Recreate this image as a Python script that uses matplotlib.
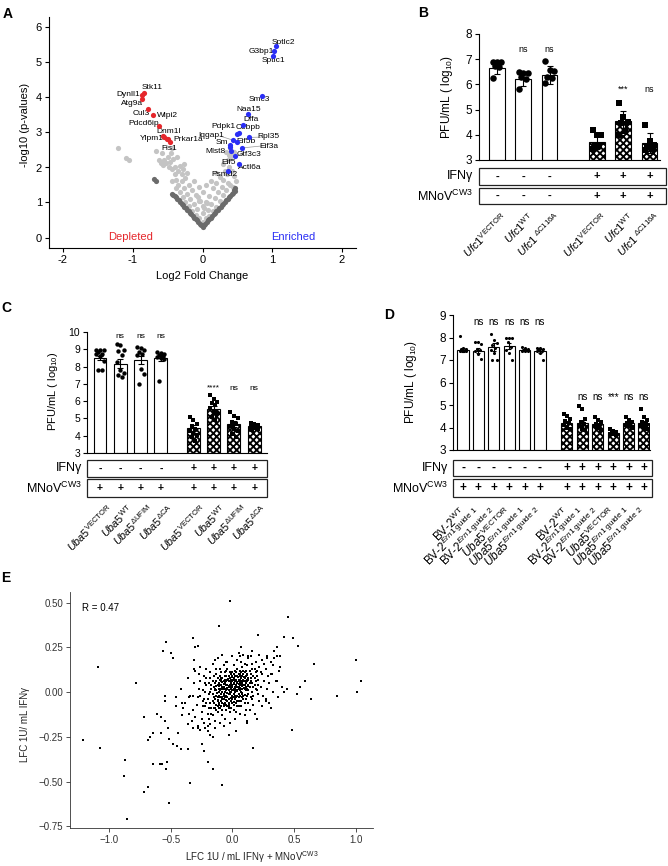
import numpy as np
import matplotlib
matplotlib.use('Agg')
import matplotlib.pyplot as plt
from matplotlib.patches import Rectangle

plt.rcParams['font.family'] = ['Liberation Sans', 'DejaVu Sans']
plt.rcParams['mathtext.fontset'] = 'custom'
plt.rcParams['mathtext.rm'] = 'Liberation Sans'
plt.rcParams['mathtext.it'] = 'Liberation Sans:italic'
plt.rcParams['mathtext.bf'] = 'Liberation Sans:bold'
plt.rcParams['hatch.linewidth'] = 1.35
plt.rcParams['axes.linewidth'] = 0.8

W, H = 668, 866

# ---------------- panel A: volcano ----------------
light_x = [0.0, -0.05, 0.05, -0.1, 0.1, 0.0, -0.08, 0.08, -0.15, 0.15, -0.2, 0.2, 0.0, -0.12, 0.12,
           -0.25, 0.25, -0.05, 0.05, -0.18, 0.18, -0.28, 0.3, -0.1, 0.1, -0.22, 0.22, 0.0, -0.32, 0.34,
           -0.15, 0.15, -0.27, 0.28, -0.05, 0.05, -0.2, 0.2, -0.35, 0.37, -0.3, 0.3, -0.12, 0.12, -0.25,
           0.25, -0.38, 0.35, -0.3, 0.32, -0.22, 0.2, -0.35, 0.38, -0.28, 0.3, -0.32, 0.36, -0.4, 0.4,
           0.42, -0.26, 0.33, -1.21, -1.09, -1.06, -0.66, -0.6, -0.57, -0.52, -0.48, -0.44, -0.58,
           -0.45, -0.5, -0.47, -0.42, -0.55, -0.62, -0.4, -0.43, -0.38, -0.36, -0.44, 0.4, 0.45, 0.38,
           0.42, 0.45, 0.48, 0.4, 0.44, -0.03, 0.02, -0.07, 0.07]
light_y = [0.45, 0.55, 0.55, 0.65, 0.62, 0.7, 0.8, 0.78, 0.75, 0.75, 0.9, 0.88, 0.9, 0.95, 0.95,
           1.0, 1.05, 1.05, 1.02, 1.1, 1.12, 1.15, 1.2, 1.2, 1.18, 1.25, 1.3, 1.3, 1.3, 1.35,
           1.35, 1.4, 1.4, 1.45, 1.45, 1.5, 1.5, 1.55, 1.5, 1.55, 1.6, 1.65, 1.6, 1.62, 1.7,
           1.72, 1.65, 1.8, 1.8, 1.9, 1.85, 1.85, 1.9, 2.0, 1.95, 2.1, 2.05, 2.2, 2.0, 2.3,
           2.4, 2.1, 2.45, 2.56, 2.28, 2.22, 2.48, 2.13, 2.08, 2.12, 2.0, 1.95, 2.4,
           2.42, 2.3, 2.15, 2.25, 2.2, 2.2, 1.8, 1.6, 1.4, 2.3, 2.55, 2.55, 2.45, 2.35,
           1.9, 1.75, 1.6, 1.5, 1.45, 1.04, 0.85, 1.15, 0.98]

dark_x = [0.0, -0.02, -0.04, -0.06, -0.08, -0.1, -0.12, -0.14, -0.16, -0.18, -0.2, -0.22, -0.24,
          -0.26, -0.28, -0.3, -0.32, -0.34, -0.36, -0.38, -0.4, 0.02, 0.04, 0.06, 0.08, 0.1, 0.12,
          0.14, 0.16, 0.18, 0.2, 0.22, 0.24, 0.26, 0.28, 0.3, 0.32, 0.34, 0.36, 0.38, 0.4, 0.42,
          0.44, 0.46, -0.7, -0.67, -0.44, -0.42, 0.45, 0.47]
dark_y = [0.31, 0.35, 0.4, 0.44, 0.49, 0.53, 0.57, 0.62, 0.66, 0.71, 0.75, 0.79, 0.84,
          0.88, 0.93, 0.97, 1.01, 1.06, 1.1, 1.15, 1.19, 0.35, 0.4, 0.44, 0.49, 0.53, 0.57,
          0.62, 0.66, 0.71, 0.75, 0.79, 0.84, 0.88, 0.93, 0.97, 1.01, 1.06, 1.1, 1.15, 1.19, 1.23,
          1.28, 1.32, 1.68, 1.6, 1.23, 1.2, 1.37, 1.4]

dep_x = [-0.84, -0.86, -0.87, -0.78, -0.71, -0.63, -0.57, -0.55, -0.51, -0.49, -0.47]
dep_y = [4.14, 4.08, 3.95, 3.67, 3.51, 3.19, 2.91, 2.86, 2.82, 2.80, 2.72]
enr_x = [1.05, 1.02, 1.01, 0.85, 0.65, 0.58, 0.52, 0.49, 0.66, 0.44, 0.50, 0.40, 0.57, 0.41,
         0.46, 0.53, 0.36, 0.39]
enr_y = [5.48, 5.34, 5.18, 4.03, 3.54, 3.22, 2.99, 2.97, 2.86, 2.78, 2.72, 2.63, 2.56, 2.46,
         2.32, 2.11, 1.91, 2.58]

gene_names = ['Stk11', 'Dynll1', 'Atg9a', 'Cul3', 'Wipi2', 'Pdcd6ip', 'Dnm1l', 'Ylpm1', 'Prkar1a',
              'Fis1', 'Sptlc2', 'G3bp1', 'Sptlc1', 'Smc3', 'Naa15', 'Dffa', 'Cebpb', 'Pdpk1',
              'Iqgap1', 'Rpl35', 'Sm', 'Eif5b', 'Eif3a', 'Mlst8', 'Gtf3c3', 'Eif5', 'Actl6a', 'Psmd2']
gene_x = [-0.72, -1.07, -1.01, -0.88, -0.50, -0.84, -0.48, -0.72, -0.20, -0.48, 1.16, 0.84, 1.01,
          0.81, 0.66, 0.69, 0.66, 0.30, 0.13, 0.95, 0.28, 0.62, 0.95, 0.19, 0.66, 0.38, 0.68, 0.32]
gene_y = [4.29, 4.08, 3.82, 3.55, 3.49, 3.27, 3.03, 2.82, 2.80, 2.53, 5.58, 5.31, 5.05, 3.93,
          3.67, 3.38, 3.13, 3.18, 2.92, 2.89, 2.70, 2.75, 2.61, 2.46, 2.37, 2.13, 1.99, 1.80]

# ---------------- panel B ----------------
b_names = [r'$\mathit{Ufc1}^{\mathrm{VECTOR}}$', r'$\mathit{Ufc1}^{\mathrm{WT}}$',
           r'$\mathit{Ufc1}^{\ \Delta\mathrm{C116A}}$', r'$\mathit{Ufc1}^{\mathrm{VECTOR}}$',
           r'$\mathit{Ufc1}^{\mathrm{WT}}$', r'$\mathit{Ufc1}^{\ \Delta\mathrm{C116A}}$']
b_means = [6.65, 6.22, 6.38, 3.73, 4.53, 3.68]
b_err = [0.24, 0.28, 0.37, 0.3, 0.43, 0.41]
b_points = [[6.89, 6.88, 6.87, 6.72, 6.70, 6.27],
            [6.49, 6.47, 6.45, 6.30, 6.22, 5.80],
            [6.91, 6.58, 6.55, 6.30, 6.27, 6.06],
            [4.18, 4.00, 3.98, 3.60, 3.55, 3.45],
            [5.28, 4.70, 4.52, 4.48, 4.15, 4.00],
            [4.40, 3.75, 3.60, 3.50, 3.42, 3.40]]
b_sig = [None, 'ns', 'ns', None, '***', 'ns']
b_sig_y = [None, 7.38, 7.38, None, 5.8, 5.8]
b_ifn = ['-', '-', '-', '+', '+', '+']
b_mnov = ['-', '-', '-', '+', '+', '+']

# ---------------- panel C ----------------
c_names = [r'$\mathit{Uba5}^{\mathrm{VECTOR}}$', r'$\mathit{Uba5}^{\mathrm{WT}}$',
           r'$\mathit{Uba5}^{\Delta\mathrm{UFIM}}$', r'$\mathit{Uba5}^{\Delta\mathrm{CA}}$'] * 2
c_means = [8.52, 8.17, 8.38, 8.50, 4.45, 5.57, 4.68, 4.55]
c_err = [0.12, 0.27, 0.25, 0.15, 0.15, 0.14, 0.17, 0.06]
c_points = [[8.98, 8.95, 8.93, 8.85, 8.75, 8.70, 8.60, 8.32, 7.80, 7.78],
            [9.33, 9.22, 8.98, 8.90, 8.65, 8.27, 7.80, 7.65, 7.50, 7.40],
            [9.13, 9.05, 8.95, 8.85, 8.75, 8.65, 7.85, 7.55, 7.00],
            [8.85, 8.78, 8.70, 8.65, 8.60, 8.55, 8.50, 8.45, 7.17],
            [5.09, 4.90, 4.70, 4.55, 4.40, 4.25, 4.15, 4.05, 3.90, 3.70],
            [6.34, 6.15, 5.95, 5.90, 5.75, 5.60, 5.45, 5.30, 5.10, 4.90],
            [5.38, 5.15, 5.00, 4.80, 4.65, 4.55, 4.40, 4.25, 4.10, 3.95],
            [4.75, 4.68, 4.62, 4.58, 4.55, 4.50, 4.45, 4.40, 4.35]]
c_sig = [None, 'ns', 'ns', 'ns', None, '****', 'ns', 'ns']
c_sig_y = [None, 9.75, 9.75, 9.75, None, 6.75, 6.75, 6.75]
c_ifn = ['-'] * 4 + ['+'] * 4
c_mnov = ['+'] * 8

# ---------------- panel D ----------------
d_names = [r'BV-2$^{\mathrm{WT}}$', r'BV-2$^{\mathit{Ern1}\ \mathrm{guide\ 1}}$',
           r'BV-2$^{\mathit{Ern1}\ \mathrm{guide\ 2}}$', r'$\mathit{Uba5}^{\mathrm{VECTOR}}$',
           r'$\mathit{Uba5}^{\mathit{Ern1}\ \mathrm{guide\ 1}}$',
           r'$\mathit{Uba5}^{\mathit{Ern1}\ \mathrm{guide\ 2}}$'] * 2
d_means = [7.44, 7.41, 7.59, 7.62, 7.44, 7.41, 4.19, 4.19, 4.14, 3.77, 4.19, 4.19]
d_err = [0.08, 0.12, 0.17, 0.15, 0.04, 0.08, 0.10, 0.12, 0.08, 0.05, 0.07, 0.10]
d_points = [[8.07, 7.55, 7.50, 7.48, 7.45, 7.42, 7.40, 7.38],
            [7.81, 7.78, 7.72, 7.50, 7.45, 7.40, 7.25, 7.03],
            [8.14, 7.90, 7.75, 7.65, 7.55, 7.45, 7.30, 7.00, 6.98],
            [8.00, 8.00, 8.00, 7.80, 7.60, 7.45, 7.30, 7.00],
            [7.58, 7.52, 7.48, 7.46, 7.44, 7.42, 7.40, 7.38],
            [7.55, 7.52, 7.48, 7.45, 7.42, 7.38, 7.30, 7.00],
            [4.62, 4.50, 4.40, 4.30, 4.20, 4.10, 4.00, 3.95],
            [4.96, 4.81, 4.40, 4.25, 4.15, 4.05, 3.95, 3.90],
            [4.48, 4.35, 4.25, 4.15, 4.10, 4.05, 3.98, 3.90],
            [3.92, 3.85, 3.80, 3.78, 3.75, 3.72, 3.70, 3.65],
            [4.48, 4.35, 4.25, 4.20, 4.15, 4.10, 4.05, 3.98],
            [4.81, 4.45, 4.35, 4.25, 4.15, 4.05, 4.00, 3.95]]
d_sig = [None, 'ns', 'ns', 'ns', 'ns', 'ns', None, 'ns', 'ns', '***', 'ns', 'ns']
d_sig_y = [None] + [8.67] * 5 + [None] + [5.37] * 5
d_ifn = ['-'] * 6 + ['+'] * 6
d_mnov = ['+'] * 12

# ---------------- panel E: scatter ----------------
e_out_x = [-0.02, -0.11, 0.45, -0.32, -0.54, -0.56, -0.50, -0.48, -0.28, -0.30, -0.31, -0.31, 0.21,
           0.42, 0.49, 0.53, -1.09, -0.78, 1.0, 1.04, 1.01, 0.85, 0.66, 0.64, 0.59, 0.55, 0.52, 0.48,
           0.44, 0.42, -1.21, -1.07, -0.87, -0.88, -0.85, -0.72, -0.68, -0.51, -0.34, -0.08, -0.42,
           -0.36, -0.64, -0.57, -0.59, -0.54, -0.53, -0.20, -0.16, -0.25, -0.23, 0.17, -0.72, -0.61,
           -0.68, -0.67, -0.64, -0.58, -0.58, -0.55, -0.52, -0.51, -0.48, -0.45, -0.44, -0.42, -0.46,
           -0.55, -0.55, -0.46, -0.41, -0.35, -0.32, -0.41, -0.36, -0.32, -0.28, -0.26, -0.20, -0.18,
           -0.16, -0.03, 0.03, -0.07, -0.26, -0.23, -0.14, -0.05, 0.06, 0.07, 0.16, 0.13, 0.28, 0.34,
           0.36, 0.39, 0.39, 0.36, 0.31, 0.31, 0.27, 0.20, 0.12]
e_out_y = [0.51, 0.37, 0.42, 0.30, 0.28, 0.23, 0.22, 0.19, 0.26, 0.25, 0.18, 0.13, 0.32,
           0.31, 0.30, 0.26, 0.14, 0.05, 0.18, 0.06, 0.0, -0.02, 0.16, -0.04, 0.06, 0.03, -0.01, -0.21,
           0.02, 0.0, -0.27, -0.31, -0.38, -0.47, -0.71, -0.56, -0.53, -0.62, -0.51, -0.52, -0.32,
           -0.32, -0.40, -0.40, -0.40, -0.43, -0.39, -0.39, -0.43, -0.29, -0.33, -0.31, -0.14, -0.12,
           -0.27, -0.25, -0.23, -0.23, -0.14, -0.16, -0.20, -0.26, -0.29, -0.30, -0.23, 0.02, -0.03,
           -0.02, -0.05, -0.08, -0.06, -0.03, -0.02, -0.13, -0.18, -0.20, -0.19, -0.21, -0.22, -0.24,
           -0.25, -0.24, -0.22, -0.19, 0.14, 0.09, 0.18, 0.17, 0.20, 0.25, 0.23, 0.20, 0.19, 0.19,
           0.25, 0.20, 0.14, 0.06, 0.10, -0.09, -0.05, -0.15, -0.17]
e_core_x = [-0.29, -0.27, -0.30, -0.25, -0.26, -0.28, -0.23, -0.24, -0.22, -0.21, -0.23, -0.20, -0.21,
            -0.19, -0.20, -0.18, -0.17, -0.19, -0.16, -0.18, -0.17, -0.15, -0.16, -0.14, -0.15, -0.13,
            -0.14, -0.12, -0.13, -0.11, -0.12, -0.10, -0.11, -0.09, -0.10, -0.08, -0.09, -0.07, -0.08,
            -0.06, -0.07, -0.05, -0.06, -0.04, -0.05, -0.03, -0.04, -0.02, -0.03, -0.01, -0.02, 0.00,
            -0.01, 0.01, 0.00, 0.02, 0.01, 0.03, 0.02, 0.04, 0.03, 0.05, 0.04, 0.06, 0.05, 0.07, 0.06,
            0.08, 0.07, 0.09, 0.08, 0.10, 0.09, 0.11, 0.10, 0.12, 0.11, 0.13, 0.12, 0.14, 0.13, 0.15,
            0.14, 0.16, 0.15, 0.17, 0.16, 0.18, 0.17, 0.19, 0.20, 0.21, 0.22, 0.23, 0.24, 0.25, 0.26,
            0.27, 0.28, 0.29, 0.22, 0.19, 0.24, 0.30,
            -0.08, -0.06, -0.04, -0.02, 0.00, 0.02, 0.04, 0.06, -0.07, -0.05, -0.03, -0.01, 0.01, 0.03,
            0.05, 0.07, -0.09, -0.06, -0.03, 0.00, 0.03, 0.06, 0.09, 0.02, -0.10, -0.04, 0.01, 0.04,
            0.08, -0.02, 0.00, 0.05, -0.11, -0.08, -0.05, -0.01, 0.02, 0.06, 0.10, 0.11, -0.12, -0.09,
            -0.06, -0.03, 0.00, 0.03, 0.06, 0.09, -0.14, -0.13, -0.10, -0.07, -0.04, -0.01, 0.02, 0.05,
            0.08, 0.11, 0.13, 0.15, 0.12, 0.07, 0.04, 0.01, -0.16, -0.18, -0.15, -0.12, -0.09, -0.06,
            -0.03, 0.00, -0.20, -0.17, -0.14, -0.11, -0.08, -0.05, -0.02, 0.01, 0.04, 0.07, 0.10, 0.13,
            0.16, 0.18, 0.20, 0.21, -0.24, -0.22, -0.26, -0.19, -0.13, -0.10, -0.07, -0.04, 0.01, 0.04,
            0.07, 0.10, 0.13, 0.16, 0.19, 0.17, -0.32, -0.34, -0.31, -0.33, 0.32, 0.33, 0.35, 0.31,
            -0.28, -0.25, -0.22, -0.18, -0.14, -0.10, -0.06, -0.02, 0.02, 0.06, 0.10, 0.14, 0.18, 0.24,
            0.27, 0.12, -0.36, -0.38, -0.35, -0.40, 0.36, 0.38, 0.40, 0.37, -0.30, -0.27, -0.21, -0.16,
            -0.12, -0.08, 0.00, 0.05, 0.09, 0.15, 0.22, 0.26, 0.28, 0.34, 0.30, 0.33,
            -0.15, -0.13, -0.11, -0.09, -0.07, -0.05, -0.03, -0.01, 0.01, 0.03, 0.05, 0.07, 0.09, 0.11,
            0.13, -0.14, -0.12, -0.10, -0.08, -0.06, -0.04, -0.02, 0.00, 0.02, 0.04, 0.06, 0.08, 0.10,
            0.12, 0.14, -0.13, -0.11, -0.09, -0.07, -0.05, -0.03, -0.01, 0.01, 0.03, 0.05, 0.07, 0.09,
            0.11, 0.13, 0.15, -0.16, -0.14, -0.12, -0.10, -0.08, -0.06, -0.04, -0.02, 0.00, 0.02, 0.04,
            0.06, 0.08, 0.10, 0.12, -0.17, -0.15, -0.13, -0.11, -0.09, -0.07, -0.05, -0.03, -0.01, 0.01,
            0.03, 0.05, 0.07, 0.09, 0.11, -0.125, -0.105, -0.085, -0.065, -0.045, -0.025, -0.005, 0.015,
            0.035, 0.055, 0.075, 0.095, 0.115, -0.115, -0.095, -0.075, -0.055, -0.035, -0.015, 0.005,
            0.025, 0.045, 0.065, 0.085, 0.105, 0.125, -0.135, -0.085, -0.045, -0.005, 0.035, 0.075,
            0.115, -0.065, -0.025, 0.015, 0.055, 0.095, -0.19, -0.21, -0.18, -0.22, 0.17, 0.19, 0.18,
            0.16, 0.20, 0.21, -0.24, 0.23]
e_core_y = [-0.07, 0.02, -0.14, -0.11, 0.06, -0.03, -0.17, 0.01, -0.08, 0.04, -0.04, -0.12, 0.08,
            -0.01, -0.19, -0.06, 0.02, -0.15, 0.06, 0.11, -0.09, -0.03, -0.13, 0.01, 0.09, -0.07,
            -0.16, 0.04, 0.13, -0.02, -0.11, 0.07, 0.00, -0.05, -0.09, 0.03, 0.11, -0.01, -0.13,
            0.05, -0.07, 0.01, 0.09, -0.03, -0.10, 0.06, 0.13, -0.01, -0.06, 0.03, 0.08, -0.04,
            -0.09, 0.05, 0.11, 0.00, -0.07, 0.03, 0.09, -0.02, -0.11, 0.06, 0.13, 0.01, -0.05, 0.04,
            0.10, -0.01, -0.08, 0.07, 0.14, 0.02, -0.04, 0.05, 0.11, -0.02, -0.10, 0.08, 0.15, 0.03,
            -0.06, 0.06, 0.12, 0.00, -0.03, 0.09, 0.16, 0.04, -0.07, 0.11, 0.01, 0.07, 0.14, 0.03,
            0.10, -0.02, 0.06, 0.13, 0.02, 0.09, -0.05, 0.17, 0.18, 0.05,
            0.00, -0.03, 0.02, 0.04, 0.01, 0.03, 0.05, 0.04, 0.06, 0.04, -0.01, 0.00, 0.02, 0.07,
            0.03, 0.08, 0.02, -0.06, 0.09, 0.06, -0.03, 0.07, 0.04, -0.04, -0.03, -0.05, 0.08, 0.09,
            0.05, 0.11, -0.02, 0.10, 0.05, 0.08, 0.12, -0.05, 0.12, -0.02, 0.08, 0.01, -0.05, -0.08,
            0.02, 0.03, 0.04, 0.01, 0.12, 0.10, -0.09, 0.01, 0.04, -0.04, 0.07, 0.07, 0.06, -0.01,
            0.02, 0.09, 0.04, 0.10, 0.06, 0.00, 0.01, -0.01, -0.05, 0.00, 0.03, 0.08, 0.06, 0.11,
            -0.08, 0.09, -0.04, -0.12, -0.04, -0.07, -0.10, -0.07, -0.11, -0.10, -0.08, -0.05, -0.06,
            -0.01, 0.05, 0.08, 0.12, -0.01, -0.08, 0.00, -0.02, 0.05, 0.10, 0.13, 0.15, 0.17, 0.15,
            0.18, 0.17, 0.16, 0.19, 0.13, 0.02, -0.02, -0.10, -0.02, 0.05, -0.16, 0.10, 0.15, 0.06,
            0.17, -0.20, -0.15, -0.20, -0.18, -0.20, -0.17, -0.15, -0.17, -0.15, -0.12, -0.13, -0.10,
            -0.12, -0.08, -0.04, -0.16, 0.08, -0.06, -0.12, -0.09, 0.20, 0.12, 0.03, -0.03, 0.12,
            0.10, 0.13, 0.16, 0.19, 0.21, 0.20, 0.22, 0.21, 0.20, 0.21, 0.16, 0.20, 0.23, -0.06, 0.00,
            -0.06, -0.02, 0.02, -0.01, 0.03, -0.02, 0.01, 0.05, 0.01, 0.04, 0.07, 0.02, 0.06, 0.03,
            0.07, 0.02, -0.03, 0.01, -0.04, 0.00, 0.04, 0.00, 0.03, -0.02, 0.03, 0.05, 0.09, 0.04,
            0.10, 0.05, -0.10, -0.06, 0.04, -0.08, 0.06, -0.04, 0.02, 0.10, -0.06, 0.02, 0.11, -0.02,
            0.12, 0.01, 0.08, -0.01, 0.05, -0.08, 0.09, -0.06, 0.07, -0.08, 0.06, -0.06, 0.07, -0.05,
            0.09, -0.03, 0.06, 0.02, 0.04, -0.09, 0.06, -0.09, 0.08, -0.02, 0.09, -0.09, 0.10, -0.03,
            0.11, -0.08, 0.06, 0.12, -0.04, -0.005, 0.035, -0.025, 0.045, -0.005, 0.035, -0.025, 0.045,
            0.005, 0.045, -0.005, 0.085, 0.065, -0.045, 0.065, 0.015, -0.045, 0.075, -0.035, 0.065,
            0.015, 0.085, 0.025, 0.065, -0.015, 0.035, 0.035, 0.055, 0.025, 0.085, 0.055, 0.035,
            0.095, -0.065, -0.065, -0.055, -0.025, 0.025, -0.09, -0.06, 0.08, 0.05, 0.03, 0.06,
            0.13, -0.04, 0.09, 0.04, -0.05, 0.11]


def rect(l, t, r, b):
    return [l / W, 1 - b / H, (r - l) / W, (b - t) / H]


def bar_panel(fig, box, rows, x0, ppu, pos, means, err, points, sig, sig_y, ylim, names,
              ifn, mnov, bw, ms, fs_tick, fs_sig, fs_sign, lab_dx, lab_y, fs_name, cap):
    l, t, r, b = box
    ax = fig.add_axes(rect(l, t, r, b))
    ax.set_xlim((l - x0) / ppu, (r - x0) / ppu)
    ax.set_ylim(ylim)
    n = len(pos)
    half = n // 2
    for i in range(n):
        hatched = i >= half
        ax.bar(pos[i], means[i] - ylim[0], bottom=ylim[0], width=bw, color='white',
               edgecolor='black', linewidth=0.8, hatch='xxxxx' if hatched else None, zorder=1)
        vals = sorted(points[i], reverse=True)
        cyc = [-0.55, 0.0, 0.55, -0.28, 0.28]
        offs = [cyc[k % 5] * bw / 2 for k in range(len(vals))]
        ax.scatter(np.array(offs) + pos[i], vals, s=ms, c='black', lw=0,
                   marker='s' if hatched else 'o', zorder=3, clip_on=False)
        if sig[i]:
            ax.text(pos[i], sig_y[i], sig[i], ha='center', va='center', fontsize=fs_sig)
    ax.errorbar(pos, means, yerr=err, fmt='none', ecolor='black', elinewidth=0.8,
                capsize=cap, capthick=0.8, zorder=4)
    ax.spines['top'].set_visible(False)
    ax.spines['right'].set_visible(False)
    ax.set_xticks([])
    ax.set_yticks(np.arange(ylim[0], ylim[1] + 1))
    ax.tick_params(axis='y', labelsize=fs_tick, length=3, width=0.8, pad=2)

    t_ifn, b_ifn, t_m, b_m, tr, lab_r = rows
    tax = fig.add_axes(rect(l, t_ifn, tr, b_m))
    xl, xr = (l - x0) / ppu, (tr - x0) / ppu
    tax.set_xlim(xl, xr)
    tax.set_ylim(b_m, t_ifn)
    tax.axis('off')
    for top, bot, signs, lab in [(t_ifn, b_ifn, ifn, 'IFNγ'),
                                 (t_m, b_m, mnov, r'MNoV$^{\mathrm{CW3}}$')]:
        tax.add_patch(Rectangle((xl, top), xr - xl, bot - top, fill=False, lw=0.9,
                                ec='#222222', clip_on=False))
        for p, s in zip(pos, signs):
            tax.text(p, (top + bot) / 2, s, ha='center', va='center', fontsize=fs_sign,
                     fontweight='bold')
        tax.text((lab_r - x0) / ppu, (top + bot) / 2, lab, ha='right', va='center',
                 fontsize=9, clip_on=False)
    for p, nm in zip(pos, names):
        tax.text(p + lab_dx, lab_y, nm, rotation=45, ha='right', va='top',
                 rotation_mode='anchor', fontsize=fs_name, clip_on=False)
    return ax


fig = plt.figure(figsize=(W / 100, H / 100), dpi=100)

# ---- A ----
axA = fig.add_axes(rect(49, 17, 356, 248))
axA.scatter(light_x, light_y, s=14, c='#c4c4c4', lw=0, zorder=1)
axA.scatter(dark_x, dark_y, s=14, c='#6b6b6b', lw=0, zorder=2)
for lx, ly, px, py in [(0.25, 2.9, 0.50, 2.74), (0.88, 2.87, 0.66, 2.86),
                       (0.87, 2.62, 0.57, 2.56), (0.58, 2.38, 0.46, 2.33)]:
    axA.plot([lx, px], [ly, py], color='#999999', lw=0.5, zorder=2)
axA.scatter(dep_x, dep_y, s=14, c='#e5262b', lw=0, zorder=3)
axA.scatter(enr_x, enr_y, s=14, c='#2a2ef5', lw=0, zorder=3)
for nm, gx, gy in zip(gene_names, gene_x, gene_y):
    axA.text(gx, gy, nm, fontsize=6, ha='center', va='center', zorder=2)
axA.text(-1.03, 0.0, 'Depleted', color='#e5262b', fontsize=8, ha='center', va='center')
axA.text(1.3, 0.0, 'Enriched', color='#2a2ef5', fontsize=8, ha='center', va='center')
axA.set_xlim(-2.2, 2.2)
axA.set_ylim(-0.3, 6.3)
axA.set_xticks([-2, -1, 0, 1, 2])
axA.set_xticklabels(['-2', '-1', '0', '1', '2'])
axA.set_yticks(range(7))
axA.tick_params(labelsize=8, length=3, width=0.8, pad=2)
axA.spines['top'].set_visible(False)
axA.spines['right'].set_visible(False)
fig.text(202 / W, 1 - 276 / H, 'Log2 Fold Change', ha='center', va='center', fontsize=8)
fig.text(25 / W, 1 - 125 / H, '-log10 (p-values)', rotation=90, ha='center', va='center',
         fontsize=8)

# ---- B ----
bar_panel(fig, (479, 34, 660, 160), (168, 185, 188, 204, 666, 473), 497, 26.3,
          [0, 1, 2, 3.8, 4.8, 5.8], b_means, b_err, b_points, b_sig, b_sig_y, (3, 8), b_names,
          b_ifn, b_mnov, 0.6, 22, 8.5, 6.5, 8, 0.15, 210, 8, 2.5)
fig.text(447 / W, 1 - 97 / H, r'PFU/mL ( log$_{10}$)', rotation=90, ha='center', va='center',
         fontsize=8.5)

# ---- C ----
bar_panel(fig, (87, 332, 267, 453), (460, 477, 479, 497, 267, 82), 100, 20.3,
          [0, 1, 2, 3, 4.6, 5.6, 6.6, 7.6], c_means, c_err, c_points, c_sig, c_sig_y, (3, 10),
          c_names, c_ifn, c_mnov, 0.64, 10, 7.5, 6, 7.5, 0.3, 502, 7.8, 2)
fig.text(53 / W, 1 - 391 / H, r'PFU/mL ( log$_{10}$)', rotation=90, ha='center', va='center',
         fontsize=8)

# ---- D ----
bar_panel(fig, (453, 315, 650, 450), (460, 476, 479, 497, 652, 448), 463, 15.4,
          [0, 1, 2, 3, 4, 5, 6.75, 7.75, 8.75, 9.75, 10.75, 11.75], d_means, d_err, d_points,
          d_sig, d_sig_y, (3, 9), d_names, d_ifn, d_mnov, 0.72, 5, 8.5, 7, 8.5, -0.3, 505, 8.5, 1.5)
fig.text(411 / W, 1 - 382 / H, r'PFU/mL ( log$_{10}$)', rotation=90, ha='center', va='center',
         fontsize=8.5)

# ---- E ----
axE = fig.add_axes(rect(70, 592, 373, 828))
axE.scatter(e_core_x, e_core_y, s=3.5, c='black', lw=0, marker='s')
axE.scatter(e_out_x, e_out_y, s=3.5, c='black', lw=0, marker='s')
axE.set_xlim(-1.316, 1.14)
axE.set_ylim(-0.76, 0.56)
axE.set_xticks([-1.0, -0.5, 0.0, 0.5, 1.0])
axE.set_xticklabels(['−1.0', '−0.5', '0.0', '0.5', '1.0'])
axE.set_yticks([-0.75, -0.5, -0.25, 0.0, 0.25, 0.5])
axE.set_yticklabels(['−0.75', '−0.50', '−0.25', '0.00', '0.25', '0.50'])
axE.tick_params(labelsize=7, length=3, width=0.6, colors='#333333', pad=2)
for s in ['top', 'right']:
    axE.spines[s].set_visible(False)
for s in ['left', 'bottom']:
    axE.spines[s].set_color('#333333')
    axE.spines[s].set_linewidth(0.6)
axE.text(-1.22, 0.47, 'R = 0.47', fontsize=7, ha='left', va='center')
fig.text(252 / W, 1 - 857 / H, r'LFC 1U / mL IFNγ + MNoV$^{\mathrm{CW3}}$', ha='center',
         va='center', fontsize=7, color='#222222')
fig.text(25 / W, 1 - 725 / H, 'LFC 1U/ mL IFNγ', rotation=90, ha='center', va='center',
         fontsize=7, color='#222222')

# panel letters
for letter, x, y in [('A', 8, 14), ('B', 423, 13), ('C', 6, 308), ('D', 389, 315), ('E', 6, 578)]:
    fig.text(x / W, 1 - y / H, letter, fontsize=10, fontweight='bold', ha='center', va='center')

fig.savefig('out.png', dpi=100)
